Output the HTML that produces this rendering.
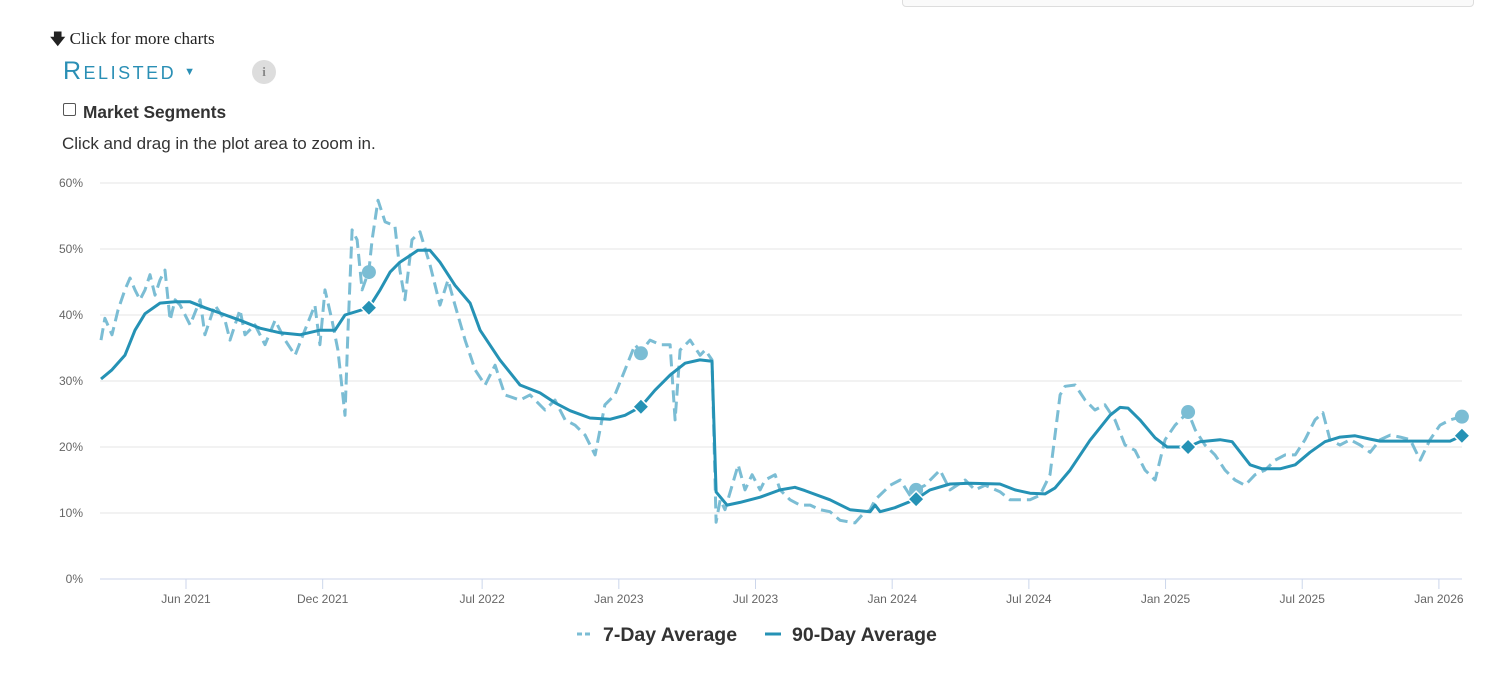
<!DOCTYPE html>
<html><head><meta charset="utf-8">
<style>
body{margin:0;width:1512px;height:676px;background:#fff;overflow:hidden;font-family:"Liberation Sans",sans-serif;position:relative}
.abs{position:absolute}
</style></head><body>
<div class="abs" style="left:902px;top:-6px;width:570px;height:11px;border:1px solid #ddd;border-radius:4px;background:#fafafa"></div>
<div class="abs" style="left:50px;top:29px;font-family:'Liberation Serif',serif;font-size:17px;color:#222"><b style="font-size:15px">&#129095;</b> Click for more charts</div>
<div class="abs" style="left:63px;top:57px;font-size:25px;color:#2a8fb5;font-variant:small-caps;letter-spacing:2.5px">Relisted<span style="font-size:11px;vertical-align:middle;margin-left:8px">&#9660;</span></div>
<div class="abs" style="left:252px;top:60px;width:24px;height:24px;border-radius:50%;background:#ddd;color:#888;font-size:13px;font-weight:bold;text-align:center;line-height:24px;font-family:'Liberation Serif',serif">i</div>
<div class="abs" style="left:63px;top:103px;width:11px;height:11px;border:1px solid #555;border-radius:2px"></div>
<div class="abs" style="left:83px;top:102px;font-size:17.3px;font-weight:bold;color:#333">Market Segments</div>
<div class="abs" style="left:62px;top:134px;font-size:17px;color:#333">Click and drag in the plot area to zoom in.</div>
<svg class="abs" style="left:0;top:0" width="1512" height="676" id="chart"></svg>
<script>
const yTicks=[0,10,20,30,40,50,60];
const xTickLabels=["Jun 2021","Dec 2021","Jul 2022","Jan 2023","Jul 2023","Jan 2024","Jul 2024","Jan 2025","Jul 2025","Jan 2026"];
const xTickMonths=[5,11,18,24,30,36,42,48,54,60];
const ninetyMonths=[1.27,1.75,2.32,2.76,3.2,3.86,4.52,5.18,5.83,6.49,7.37,8.25,9.13,10.0,10.88,11.54,11.98,13.03,13.52,13.96,14.39,14.83,15.18,15.71,16.15,16.81,17.47,17.91,18.78,19.66,20.54,21.2,21.86,22.73,23.61,24.27,24.97,25.59,26.25,26.91,27.56,28.09,28.27,28.75,29.32,30.2,31.08,31.73,32.17,33.27,34.15,35.03,35.25,35.47,36.12,37.05,37.66,38.54,39.42,40.73,41.39,42.05,42.71,43.15,43.81,44.68,45.56,46.0,46.35,46.88,47.54,48.07,48.99,49.51,50.39,50.92,51.71,52.24,53.03,53.69,54.34,55.0,55.66,56.32,56.98,57.41,59.61,60.49,61.01];
const ninetyValues=[30.3,31.7,33.9,37.7,40.2,41.8,42,42,41.1,40.3,39.2,38,37.3,37,37.7,37.7,40,41.1,43.8,46.5,48,49,49.8,49.8,48,44.5,41.8,37.7,33.2,29.4,28.2,26.7,25.5,24.4,24.2,24.8,26.1,28.6,30.9,32.7,33.2,33.0,13.2,11.2,11.6,12.4,13.5,13.9,13.4,12,10.5,10.2,11.2,10.2,10.8,12.1,13.5,14.4,14.5,14.4,13.5,13,12.9,13.8,16.5,21,24.8,26,25.9,24.1,21.4,20,20,20.8,21.1,20.8,17.3,16.7,16.7,17.3,19.2,20.8,21.5,21.7,21.2,20.9,20.9,20.9,21.7];
const sevenMonths=[1.27,1.44,1.75,2.02,2.32,2.54,2.76,2.98,3.2,3.42,3.64,3.86,4.08,4.3,4.52,4.74,5.18,5.62,5.83,6.27,6.71,6.93,7.37,7.59,8.03,8.47,8.91,9.35,9.79,10.22,10.66,10.88,11.1,11.41,11.67,11.98,12.11,12.29,12.51,12.73,13.03,13.17,13.43,13.74,14.17,14.39,14.61,14.92,15.27,15.71,16.15,16.5,16.81,17.25,17.69,18.13,18.57,19.0,19.66,20.1,20.76,21.2,21.64,22.08,22.52,22.96,23.39,23.83,24.27,24.71,24.97,25.37,25.81,26.25,26.47,26.69,27.13,27.57,27.79,28.09,28.27,28.45,28.66,29.24,29.54,29.85,30.2,30.42,30.86,31.08,31.52,31.96,32.4,32.83,33.27,33.71,34.37,34.68,35.03,35.25,35.91,36.35,36.78,37.05,37.44,38.1,38.54,39.2,39.64,40.08,40.74,41.17,41.61,42.05,42.49,42.93,43.37,43.59,44.03,44.47,44.9,45.34,45.78,46.22,46.66,47.1,47.54,47.98,48.42,48.99,49.3,49.73,50.17,50.61,51.05,51.49,51.93,52.37,52.81,53.25,53.69,54.12,54.56,54.91,55.22,55.66,56.1,56.54,56.98,57.42,57.86,58.3,58.74,59.18,59.61,60.05,60.49,61.01];
const sevenValues=[36.2,39.5,37.0,40.8,43.8,45.6,43.8,42.3,43.8,46.1,43.0,45.3,46.8,39.2,42.3,41.5,38.5,42.3,37.0,41.5,39.2,36.2,40.8,37.0,38.5,35.5,39.2,36.2,33.9,37.7,41.5,35.5,43.8,39.2,34.7,24.8,37.7,52.9,51.4,43.8,46.7,51.4,57.4,54.1,53.5,46.8,42.3,51.4,52.6,47.6,41.5,45.3,41.5,36.2,31.7,29.4,32.4,27.9,27.1,27.9,25.6,27.1,24.1,23.3,21.8,18.8,26.4,27.9,31.7,35.5,34.4,36.2,35.5,35.5,24.1,34.7,36.2,33.9,34.7,33.2,8.6,12.0,10.5,17.3,13.5,15.8,13.5,15.0,15.8,13.5,12.0,11.2,11.2,10.5,10.2,8.9,8.5,9.7,10.5,12.0,14.2,15.0,12.7,13.5,14.2,16.5,13.5,15.0,13.5,14.2,13.2,12.0,12.0,12.0,12.7,15.8,27.9,29.2,29.4,27.1,25.6,26.4,24.1,20.3,19.5,16.5,15.0,21.1,23.3,25.3,22.6,20.3,18.8,16.5,15.0,14.2,15.8,16.5,18.0,18.8,18.8,21.1,24.1,25.2,21.1,20.3,21.1,20.3,19.2,21.1,21.8,21.5,21.1,18.0,21.1,23.3,24.1,24.6];
const markerMonths=[13.03,24.97,37.05,48.99,61.01];
const markerNinety=[41.1,26.1,12.1,20.0,21.7];
const markerSeven=[46.5,34.2,13.5,25.3,24.6];

const svg=document.getElementById('chart');
const NS='http://www.w3.org/2000/svg';
const X=m=>186+(m-5)*22.78;
const Y=v=>579-v*6.6;
function mk(tag,attrs,parent){const e=document.createElementNS(NS,tag);for(const k in attrs)e.setAttribute(k,attrs[k]);(parent||svg).appendChild(e);return e;}
yTicks.forEach(t=>{
  const g=mk('line',{x1:100,x2:1462,y1:Y(t),y2:Y(t),stroke:t===0?'#ccd6eb':'#e6e6e6','stroke-width':1});
  
  
  const l=mk('text',{x:83,y:Y(t)+4,'text-anchor':'end','font-size':12,fill:'#666','font-family':'Liberation Sans, sans-serif'});
  l.textContent=t+'%';
  
  
});
xTickLabels.forEach((s,i)=>{
  const x=X(xTickMonths[i]);
  const tk=mk('line',{x1:x,x2:x,y1:579,y2:589,stroke:'#ccd6eb'});
  
  
  const l=mk('text',{x:x,y:603,'text-anchor':'middle','font-size':12,fill:'#666','font-family':'Liberation Sans, sans-serif'});
  l.textContent=s;
  
  
});
const pts=(ms,vs)=>ms.map((m,i)=>X(m).toFixed(1)+','+Y(vs[i]).toFixed(1)).join(' ');
const s7=mk('polyline',{points:pts(sevenMonths,sevenValues),fill:'none',stroke:'#7bbdd4','stroke-width':3,'stroke-dasharray':'12,6','stroke-linejoin':'round'});


const s90=mk('polyline',{points:pts(ninetyMonths,ninetyValues),fill:'none',stroke:'#2592b5','stroke-width':3,'stroke-linejoin':'round'});


markerMonths.forEach((m,i)=>{
  const c=mk('circle',{cx:X(m),cy:Y(markerSeven[i]),r:7,fill:'#7bbdd4'});
  
  
  const x=X(m),y=Y(markerNinety[i]);
  const d=mk('path',{d:`M${x},${y-8}L${x+8},${y}L${x},${y+8}L${x-8},${y}Z`,fill:'#2592b5',stroke:'#fff','stroke-width':1.5});
  
  
});
const lg1=mk('line',{x1:577,x2:591,y1:634,y2:634,stroke:'#7bbdd4','stroke-width':3,'stroke-dasharray':'5,3'});


const lt1=mk('text',{x:603,y:641,'font-size':19.5,'font-weight':'bold',fill:'#333','font-family':'Liberation Sans, sans-serif'});
lt1.textContent='7-Day Average';


const lg2=mk('line',{x1:765,x2:781,y1:634,y2:634,stroke:'#2592b5','stroke-width':3});


const lt2=mk('text',{x:792,y:641,'font-size':19.5,'font-weight':'bold',fill:'#333','font-family':'Liberation Sans, sans-serif'});
lt2.textContent='90-Day Average';


</script>
</body></html>
